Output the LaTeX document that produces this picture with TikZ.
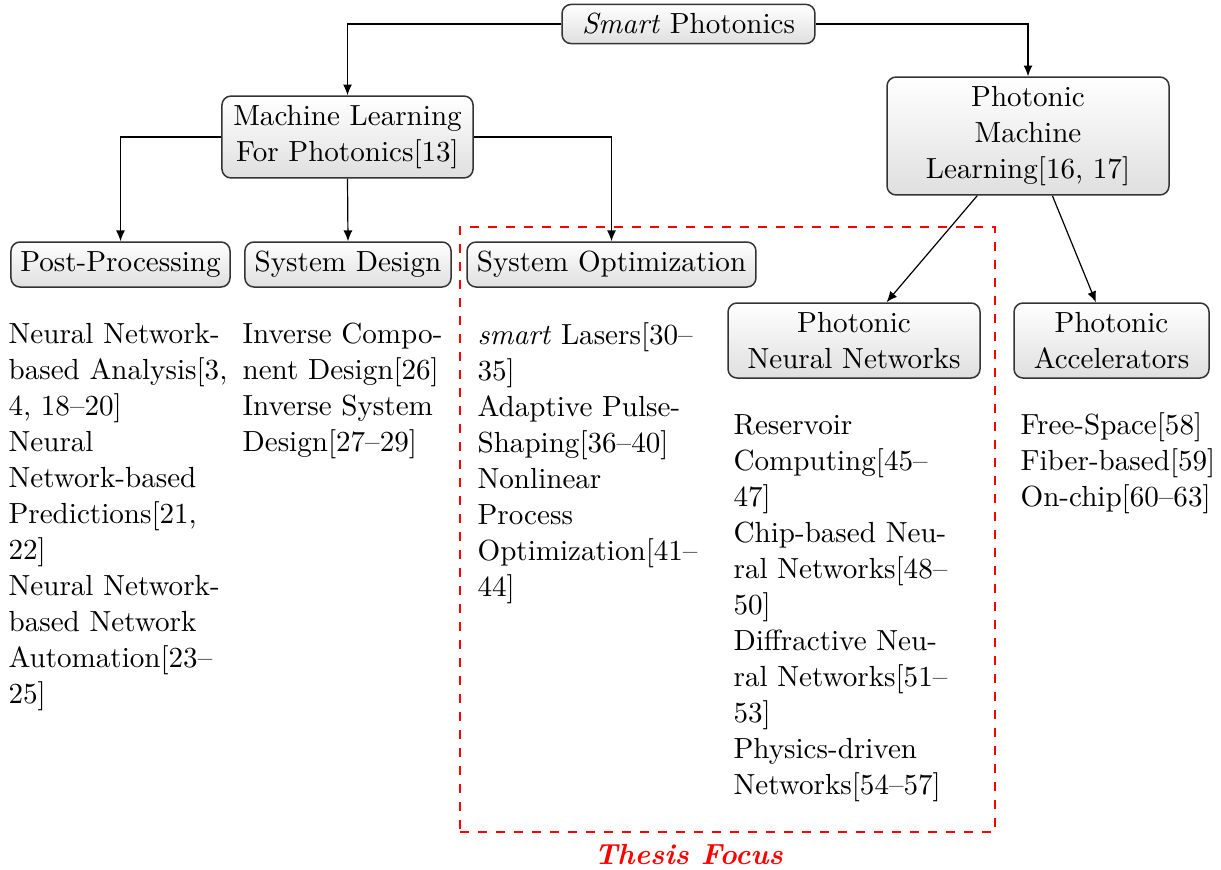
\documentclass[tikz,border=0pt]{standalone}
\usepackage{fontspec}
\usetikzlibrary{arrows.meta}
\tikzset{
  box/.style={draw=black!80, line width=0.5pt, rounded corners=3pt, top color=white, bottom color=gray!25, align=center, inner sep=3pt},
  arr/.style={-{Latex[length=3.6pt,width=3pt]}, line width=0.4pt},
  txt/.style={anchor=north west, align=left, inner sep=0pt},
  focusframe/.style={draw=red, dashed, line width=0.8pt, inner sep=0pt}
}
\begin{document}
\begin{tikzpicture}[x=0.333333pt,y=-0.333333pt, every node/.style={font=\fontsize{9.7pt}{12pt}\selectfont}]
\useasboundingbox (0,0) rectangle (1221,869);
% boxes
\node[box, minimum width=84.3pt, minimum height=12.7pt] (SP) at (688.5,24) {\textit{Smart} Photonics};
\node[box, minimum width=83.7pt, minimum height=27.3pt] (ML) at (347.5,137) {Machine Learning\\For Photonics[13]};
\node[box, minimum width=94pt, minimum height=39.3pt] (PML) at (1028,136) {Photonic\\Machine\\Learning[16, 17]};
\node[box, minimum width=73pt, minimum height=15pt] (PP) at (120.5,264.5) {Post-Processing};
\node[box, minimum width=68.7pt, minimum height=15pt] (SD) at (348,264.5) {System Design};
\node[box, minimum width=96.3pt, minimum height=15pt] (SO) at (611.5,264.5) {System Optimization};
\node[box, minimum width=84pt, minimum height=25pt] (PNN) at (854,340.5) {Photonic\\Neural Networks};
\node[box, minimum width=65pt, minimum height=25pt] (PA) at (1111.5,340.5) {Photonic\\Accelerators};
% connectors
\draw[arr] (SP.west) -| (ML.north);
\draw[arr] (SP.east) -| (PML.north);
\draw[arr] (ML.west) -| (PP.north);
\draw[arr] (ML.south) -- (SD.north);
\draw[arr] (ML.east) -| (SO.north);
\draw[arr] (PML) -- (PNN);
\draw[arr] (PML) -- (PA);
% text blocks
\node[txt] (T1) at (8,318) {\strut Neural Network-\\based Analysis[3,\\4, 18--20]\\Neural\\Network-based\\Predictions[21,\\22]\\Neural Network-\\based Network\\Automation[23--\\25]};
\node[txt] (T2) at (242,318) {\strut Inverse Compo-\\nent Design[26]\\Inverse System\\Design[27--29]};
\node[txt] (T3) at (477,319) {\strut\textit{smart} Lasers[30--\\35]\\Adaptive Pulse-\\Shaping[36--40]\\Nonlinear\\Process\\Optimization[41--\\44]};
\node[txt] (T4) at (733,409) {\strut Reservoir\\Computing[45--\\47]\\Chip-based Neu-\\ral Networks[48--\\50]\\Diffractive Neu-\\ral Networks[51--\\53]\\Physics-driven\\Networks[54--57]};
\node[txt] (T5) at (1020,409) {\strut Free-Space[58]\\Fiber-based[59]\\On-chip[60--63]};
% thesis focus frame
\node[focusframe, minimum width=178.3pt, minimum height=201.7pt] (focus) at (727.5,529.5) {};
\node[anchor=base, text=red, font=\fontsize{9.7pt}{12pt}\selectfont\bfseries\itshape] (TF) at (688.5,864) {Thesis Focus};
\end{tikzpicture}
\end{document}
